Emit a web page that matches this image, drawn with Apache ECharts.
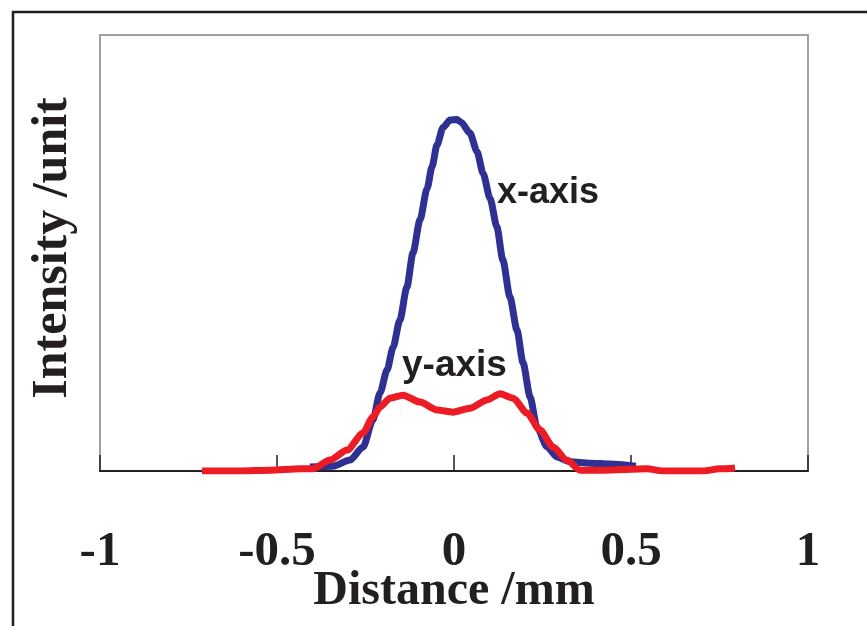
<!DOCTYPE html>
<html>
<head>
<meta charset="utf-8">
<script src="https://cdn.jsdelivr.net/npm/echarts@6/dist/echarts.min.js"></script>
<style>
  html, body { margin: 0; padding: 0; background: #fff; }
  #chart { width: 867px; height: 626px; }
</style>
</head>
<body>
<div id="chart"></div>
<script>
// Beam intensity profiles across the focal spot (distance in mm, intensity in arbitrary units)
const xProfileDist = [-0.407, -0.342, -0.294, -0.257, -0.229, -0.209, -0.189, -0.172, -0.153, -0.133,
  -0.116, -0.096, -0.076, -0.062, -0.048, -0.031, -0.011, 0.008, 0.020, 0.045, 0.065, 0.082, 0.102,
  0.121, 0.138, 0.158, 0.178, 0.195, 0.215, 0.234, 0.263, 0.291, 0.328, 0.384, 0.441, 0.514];
const xProfileInt = [0.009, 0.011, 0.025, 0.055, 0.117, 0.179, 0.232, 0.284, 0.346, 0.422,
  0.500, 0.576, 0.648, 0.698, 0.748, 0.788, 0.805, 0.806, 0.800, 0.775, 0.733, 0.683, 0.625,
  0.560, 0.484, 0.399, 0.323, 0.248, 0.170, 0.101, 0.055, 0.032, 0.021, 0.018, 0.016, 0.011];

const yProfileDist = [-0.712, -0.605, -0.520, -0.435, -0.398, -0.350, -0.302, -0.257, -0.229, -0.209,
  -0.181, -0.144, -0.096, -0.048, -0.003, 0.045, 0.093, 0.130, 0.167, 0.206, 0.243, 0.280,
  0.319, 0.356, 0.421, 0.545, 0.590, 0.703, 0.751, 0.794];
const yProfileInt = [0.000, 0.000, 0.002, 0.005, 0.005, 0.025, 0.048, 0.087, 0.124, 0.147,
  0.167, 0.174, 0.158, 0.140, 0.135, 0.144, 0.163, 0.177, 0.167, 0.133, 0.094, 0.055,
  0.025, 0.002, 0.002, 0.005, 0.000, 0.000, 0.005, 0.007];

const seriesNames = ['x-axis', 'y-axis'];
const xTickValues = [-1, -0.5, 0, 0.5, 1];

const zip = (a, b) => a.map((v, i) => [v, b[i]]);

const serif = '"Liberation Serif", "Times New Roman", serif';
const sans = '"Liberation Sans", Arial, sans-serif';

const chart = echarts.init(document.getElementById('chart'), null, { renderer: 'canvas' });
chart.setOption({
  backgroundColor: '#ffffff',
  animation: false,
  grid: {
    left: 100, right: 59, top: 35, bottom: 155,
    containLabel: false, outerBoundsMode: 'none',
    show: true, borderColor: '#a0a0a0', borderWidth: 2, backgroundColor: 'transparent'
  },
  xAxis: {
    type: 'value',
    min: xTickValues[0], max: xTickValues[xTickValues.length - 1], interval: 0.5,
    axisLine: { show: true, onZero: false, lineStyle: { color: '#231f20', width: 2 } },
    axisTick: { show: true, inside: true, length: 16, lineStyle: { color: '#231f20', width: 1.5 } },
    splitLine: { show: false },
    axisLabel: {
      margin: 57, color: '#231f20', fontFamily: serif, fontWeight: 'bold', fontSize: 49,
      formatter: v => String(v)
    },
    name: 'Distance /mm',
    nameLocation: 'middle', nameGap: 97, nameMoveOverlap: false,
    nameTextStyle: { color: '#231f20', fontFamily: serif, fontWeight: 'bold', fontSize: 48 }
  },
  yAxis: {
    type: 'value', min: 0, max: 1,
    axisLine: { show: false }, axisTick: { show: false }, axisLabel: { show: false },
    splitLine: { show: false },
    name: 'Intensity /unit',
    nameLocation: 'middle', nameGap: 22, nameRotate: 90, nameMoveOverlap: false,
    nameTextStyle: { color: '#231f20', fontFamily: serif, fontWeight: 'bold', fontSize: 50,
      padding: [0, 0, 0, 10] }
  },
  series: [
    {
      name: seriesNames[0], type: 'line', data: zip(xProfileDist, xProfileInt),
      showSymbol: false, smooth: 0.25, smoothMonotone: 'x',
      lineStyle: { color: '#2e3192', width: 7 }, z: 2
    },
    {
      name: seriesNames[1], type: 'line', data: zip(yProfileDist, yProfileInt),
      showSymbol: false, smooth: 0.25, smoothMonotone: 'x',
      lineStyle: { color: '#ed1c24', width: 7 }, z: 3
    }
  ],
  graphic: [
    {
      type: 'polyline', silent: true,
      shape: { points: [[13, 626], [13, 12], [867, 12]] },
      style: { stroke: '#231f20', lineWidth: 2.5, fill: null }
    },
    {
      type: 'text', left: 497, top: 175, silent: true,
      style: { text: seriesNames[0], fill: '#231f20', font: 'bold 36px ' + sans }
    },
    {
      type: 'text', left: 402, top: 347, silent: true,
      style: { text: seriesNames[1], fill: '#231f20', font: 'bold 37px ' + sans }
    }
  ]
});
</script>
</body>
</html>
